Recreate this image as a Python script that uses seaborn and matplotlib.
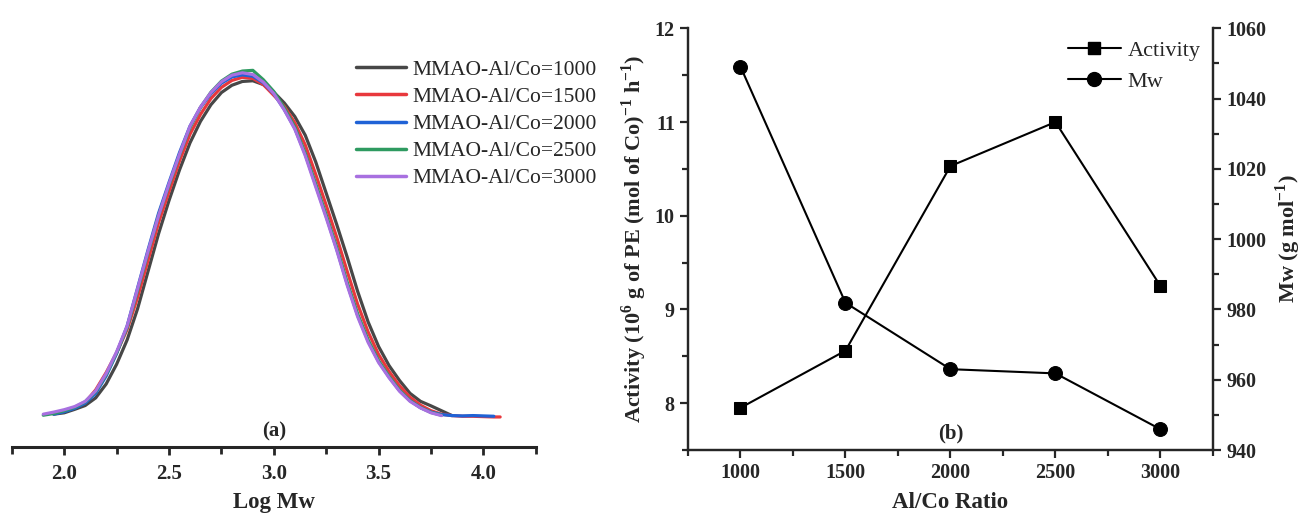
import numpy as np
import pandas as pd
import matplotlib.pyplot as plt
import seaborn as sns
from matplotlib.lines import Line2D
from matplotlib.ticker import MultipleLocator

# ---------------------------------------------------------------
# (a) GPC traces (shared Log Mw grid)
# ---------------------------------------------------------------
log_mw = [1.90, 1.95, 2.00, 2.05, 2.10, 2.15, 2.20, 2.25, 2.30, 2.35,
          2.40, 2.45, 2.50, 2.55, 2.60, 2.65, 2.70, 2.75, 2.80, 2.85,
          2.90, 2.95, 3.00, 3.05, 3.10, 3.15, 3.20, 3.25, 3.30, 3.35,
          3.40, 3.45, 3.50, 3.55, 3.60, 3.65, 3.70, 3.75, 3.80, 3.85,
          3.90, 3.95, 4.00, 4.05, 4.08]
nan = np.nan
w_1000 = [nan, .008, .012, .022, .033, .055, .095, .152, .222, .312,
          .420, .528, .624, .712, .790, .852, .900, .935, .956, .967,
          .969, .958, .936, .905, .866, .812, .735, .645, .555, .461,
          .362, .274, .203, .148, .105, .068, .045, .032, .018, .004,
          nan, nan, nan, nan, nan]
w_1500 = [nan, .010, .018, .027, .042, .078, .128, .185, .252, .345,
          .452, .560, .650, .738, .815, .872, .918, .950, .970, .979,
          .976, .958, .927, .895, .848, .784, .699, .610, .518, .420,
          .325, .245, .180, .131, .090, .057, .034, .018, .008, .004,
          .002, .002, .001, .000, .000]
w_2000 = [nan, .008, .015, .025, .040, .068, .118, .183, .262, .372,
          .482, .587, .676, .762, .838, .892, .932, .962, .980, .986,
          .982, .963, .932, .886, .832, .757, .668, .578, .484, .384,
          .293, .219, .160, .115, .076, .047, .027, .014, .007, .004,
          .003, .004, .003, .002, nan]
w_2500 = [.005, .010, .018, .028, .044, .073, .122, .185, .258, .365,
          .474, .580, .668, .755, .834, .892, .936, .968, .988, .997,
          .999, .972, .938, .891, .836, .760, .671, .582, .489, .388,
          .297, .222, .162, .117, .077, .047, .027, .013, .005, nan,
          nan, nan, nan, nan, nan]
w_3000 = [.008, .014, .021, .030, .045, .075, .125, .188, .262, .370,
          .478, .580, .672, .757, .838, .893, .935, .966, .985, .992,
          .987, .965, .932, .885, .830, .753, .663, .574, .481, .380,
          .289, .215, .157, .113, .074, .045, .026, .012, .004, nan,
          nan, nan, nan, nan, nan]
series_names = ['MMAO-Al/Co=1000', 'MMAO-Al/Co=1500', 'MMAO-Al/Co=2000',
                'MMAO-Al/Co=2500', 'MMAO-Al/Co=3000']
series_colors = ['#474747', '#e8383d', '#1f62d6', '#2e9a60', '#a870e0']

# ---------------------------------------------------------------
# (b) activity and Mw vs Al/Co ratio
# ---------------------------------------------------------------
al_co = [1000, 1500, 2000, 2500, 3000]
activity = [7.95, 8.56, 10.53, 11.00, 9.25]
mw = [1049.1, 981.9, 963.0, 961.8, 945.9]

sns.set_style('ticks')
plt.rcParams['font.family'] = ['Liberation Serif', 'DejaVu Serif']
plt.rcParams['mathtext.fontset'] = 'custom'
plt.rcParams['mathtext.rm'] = 'Liberation Serif'
plt.rcParams['mathtext.bf'] = 'Liberation Serif:bold'
plt.rcParams['axes.linewidth'] = 1.6

fig = plt.figure(figsize=(13.02, 5.14), dpi=100)
ax1 = fig.add_axes([0.0091, 0.1304, 0.4024, 0.8306])
ax2 = fig.add_axes([0.5284, 0.1245, 0.4032, 0.8204])

# ---- panel (a)
gpc = pd.DataFrame({'Log Mw': np.tile(log_mw, len(series_names)),
                    'w': np.concatenate([w_1000, w_1500, w_2000, w_2500, w_3000]),
                    'series': np.repeat(series_names, len(log_mw))})
sns.lineplot(data=gpc, x='Log Mw', y='w', hue='series', hue_order=series_names,
             palette=dict(zip(series_names, series_colors)), estimator=None,
             sort=False, linewidth=2.3, ax=ax1, legend=False)
ax1.set_xlim(1.75, 4.25)
ax1.set_ylim(-0.0865, 1.144)
ax1.xaxis.set_major_locator(MultipleLocator(0.5))
ax1.xaxis.set_minor_locator(MultipleLocator(0.25))
ax1.set_yticks([])
for s in ['left', 'top', 'right']:
    ax1.spines[s].set_visible(False)
ax1.spines['bottom'].set_linewidth(2.2)
ax1.tick_params(axis='x', which='major', length=6, width=2, labelsize=15, pad=6)
ax1.tick_params(axis='x', which='minor', length=5, width=2)
for lab in ax1.get_xticklabels():
    lab.set_fontweight('bold')
ax1.set_xlabel('Log Mw', fontsize=16.5, fontweight='bold', labelpad=6)
ax1.set_ylabel('')
ax1.text(3.0, -0.042, '(a)', ha='center', va='center', fontsize=15, fontweight='bold')
leg_a = [Line2D([], [], color=c, lw=2.5) for c in series_colors]
fig.legend(leg_a, series_names, loc='upper left', bbox_to_anchor=(0.2733, 0.884),
           frameon=False, fontsize=15.5, handlelength=2.35, handletextpad=0.3,
           labelspacing=0.33, borderpad=0, borderaxespad=0)

# ---- panel (b)
ax3 = ax2.twinx()
sns.lineplot(x=al_co, y=activity, marker='s', markersize=9, color='black',
             markeredgecolor='black', linewidth=1.5, ax=ax2)
sns.lineplot(x=al_co, y=mw, marker='o', markersize=10, color='black',
             markeredgecolor='black', linewidth=1.5, ax=ax3)
ax2.set_xlim(750, 3250)
ax2.set_ylim(7.5, 12)
ax3.set_ylim(940, 1060)
ax2.xaxis.set_major_locator(MultipleLocator(500))
ax2.xaxis.set_minor_locator(MultipleLocator(250))
ax2.yaxis.set_major_locator(MultipleLocator(1))
ax2.yaxis.set_minor_locator(MultipleLocator(0.5))
ax3.yaxis.set_major_locator(MultipleLocator(20))
ax3.yaxis.set_minor_locator(MultipleLocator(10))
ax2.spines['top'].set_visible(False)
ax3.spines['top'].set_visible(False)
for a in (ax2, ax3):
    a.tick_params(which='major', length=6, width=1.6, labelsize=14.5)
    a.tick_params(which='minor', length=4, width=1.6)
for lab in ax2.get_xticklabels() + ax2.get_yticklabels() + ax3.get_yticklabels():
    lab.set_fontweight('bold')
ax2.set_xlabel('Al/Co Ratio', fontsize=16.5, fontweight='bold', labelpad=6)
ax2.set_ylabel(r'Activity (10$^{\mathbf{6}}$ g of PE (mol of Co)$^{\mathbf{-1}}$ h$^{\mathbf{-1}}$)',
               fontsize=16, fontweight='bold', labelpad=4)
ax3.set_ylabel(r'Mw (g mol$^{\mathbf{-1}}$)', fontsize=16, fontweight='bold', labelpad=5)
ax2.text(2000, 7.68, '(b)', ha='center', va='center', fontsize=15, fontweight='bold')
leg_b = [Line2D([], [], color='black', lw=1.5, marker='s', markersize=9),
         Line2D([], [], color='black', lw=1.5, marker='o', markersize=10)]
fig.legend(leg_b, ['Activity', 'Mw'], loc='upper left', bbox_to_anchor=(0.820, 0.921),
           frameon=False, fontsize=16, handlelength=2.4, handletextpad=0.3,
           labelspacing=0.45, borderpad=0, borderaxespad=0)

fig.savefig('out.png', dpi=100)
